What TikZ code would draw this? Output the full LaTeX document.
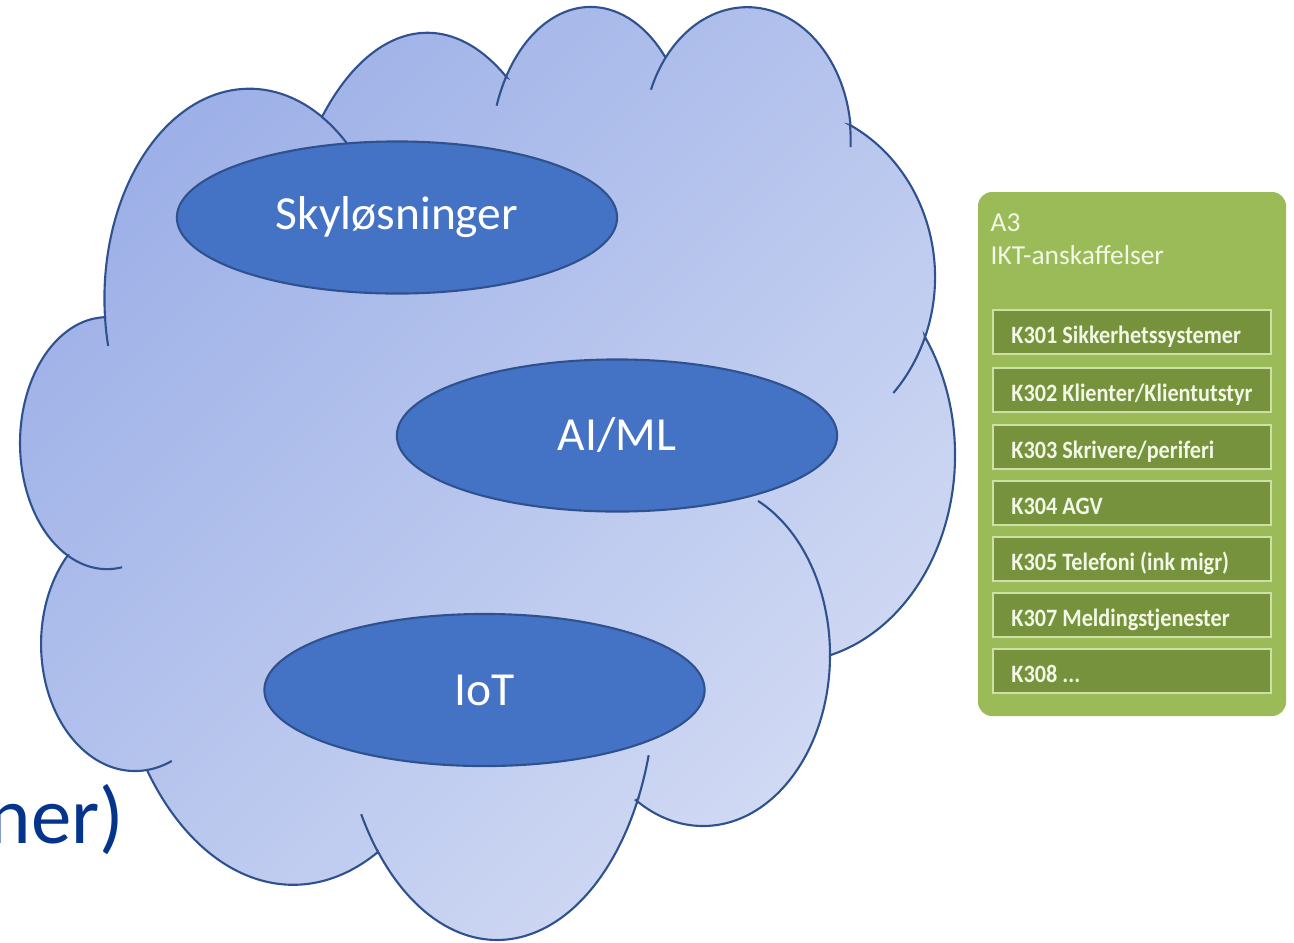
\documentclass[tikz,border=0pt]{standalone}
\usepackage{fontspec}
\usepackage{graphicx}
\setmainfont{Carlito}
\usetikzlibrary{shapes.geometric}
\definecolor{cloudline}{HTML}{2F528F}
\definecolor{cloudA}{RGB}{156,175,231}
\definecolor{cloudB}{RGB}{210,219,244}
\definecolor{ellfill}{HTML}{4472C4}
\definecolor{greenbg}{HTML}{9BBB59}
\definecolor{greenbox}{RGB}{118,146,60}
\definecolor{greenline}{RGB}{205,225,165}
\definecolor{greentext}{RGB}{242,247,230}
\definecolor{navytext}{RGB}{5,52,140}
\begin{document}
\begin{tikzpicture}[x=0.01cm,y=0.01cm,
  cloudstroke/.style={draw=cloudline, line width=0.6pt},
  ell/.style={ellipse, draw=cloudline, line width=0.6pt, fill=ellfill, minimum width=4.4cm, minimum height=1.52cm, inner sep=0pt, text=white, font=\fontsize{13.5}{16}\selectfont},
  kbox/.style={rectangle, draw=greenline, line width=0.7pt, fill=greenbox, minimum width=2.78cm, minimum height=0.44cm, inner sep=0pt},
  ktext/.style={anchor=base west, inner sep=0pt, text=greentext, font=\fontsize{7.1}{8}\selectfont\bfseries},
  ttext/.style={anchor=base west, inner sep=0pt, text=greentext, font=\fontsize{7.8}{9}\selectfont}
]
\useasboundingbox (0,0) rectangle (1294,-942);

% cloud body
\shadedraw[top color=cloudA, bottom color=cloudB, shading angle=45, cloudstroke]
 (105,-317)
 arc[start angle=185, end angle=60, x radius=145, y radius=210] -- (323,-115)
 arc[start angle=134, end angle=58, x radius=150, y radius=293] -- (506,-77)
 arc[start angle=147.8, end angle=41.6, x radius=100, y radius=150] -- (666,-57)
 arc[start angle=141.3, end angle=6.5, x radius=104, y radius=133] -- (850,-125)
 arc[start angle=62.5, end angle=-20.5, x radius=158, y radius=171.5] -- (925,-337)
 arc[start angle=34.8, end angle=-75.2, x radius=168, y radius=207] -- (830,-655)
 arc[start angle=0, end angle=-121.9, x radius=127, y radius=171] -- (638,-799)
 arc[start angle=-26.9, end angle=-138.9, x radius=158, y radius=257.5] -- (378,-852)
 arc[start angle=-62.2, end angle=-143.4, x radius=182, y radius=284] -- (147,-770)
 arc[start angle=-82.7, end angle=-224.4, x radius=94, y radius=127] -- (67,-555)
 arc[start angle=242.6, end angle=91.3, x radius=87, y radius=126] -- cycle;

% inner lobe stubs
\draw[cloudstroke] (105,-317) arc[start angle=185, end angle=193, x radius=145, y radius=210];
\draw[cloudstroke] (322,-117) arc[start angle=60, end angle=47, x radius=145, y radius=210];
\draw[cloudstroke] (506,-77) arc[start angle=147.8, end angle=160, x radius=100, y radius=150];
\draw[cloudstroke] (666,-57) arc[start angle=141.3, end angle=157.7, x radius=104, y radius=133];
\draw[cloudstroke] (850,-125) arc[start angle=6.5, end angle=-3, x radius=104, y radius=133];
\draw[cloudstroke] (925,-337) arc[start angle=-20.5, end angle=-42.6, x radius=158, y radius=171.5];
\draw[cloudstroke] (830,-655) arc[start angle=0, end angle=64.3, x radius=127, y radius=171];
\draw[cloudstroke] (638,-799) arc[start angle=-26.9, end angle=-16.4, x radius=158, y radius=257.5];
\draw[cloudstroke] (378,-852) arc[start angle=-138.9, end angle=-149.3, x radius=158, y radius=257.5];
\draw[cloudstroke] (147,-770) arc[start angle=-82.7, end angle=-67, x radius=94, y radius=127];
\draw[cloudstroke] (67,-555) arc[start angle=242.6, end angle=280, x radius=87, y radius=126];

% ellipses
\node[ell] (sky) at (397,-217.5) {Skyløsninger};
\node[ell] (aiml) at (617,-435.5) {AI/ML};
\node[ell] (iot) at (484.5,-690) {IoT};

% cut-off text
\node[anchor=base west, inner sep=0pt, text=navytext, font=\fontsize{23}{27}\selectfont] (ner) at (-12,-843) {ner)};

% green panel
\fill[greenbg, rounded corners=1.4mm] (978,-192) rectangle (1286,-716);
\node[ttext] (a3) at (990,-231) {A3};
\node[ttext] (ikt) at (990,-264) {IKT-anskaffelser};

\node[kbox] (k1) at (1132,-332) {};
\node[kbox] (k2) at (1132,-390) {};
\node[kbox] (k3) at (1132,-447) {};
\node[kbox] (k4) at (1132,-503) {};
\node[kbox] (k5) at (1132,-559) {};
\node[kbox] (k6) at (1132,-615) {};
\node[kbox] (k7) at (1132,-671) {};

\node[ktext] (t1) at ([xshift=0.19cm,yshift=-0.11cm]k1.west) {\scalebox{0.89}[1]{K301 Sikkerhetssystemer}};
\node[ktext] (t2) at ([xshift=0.19cm,yshift=-0.11cm]k2.west) {\scalebox{0.89}[1]{K302 Klienter/Klientutstyr}};
\node[ktext] (t3) at ([xshift=0.19cm,yshift=-0.11cm]k3.west) {\scalebox{0.89}[1]{K303 Skrivere/periferi}};
\node[ktext] (t4) at ([xshift=0.19cm,yshift=-0.11cm]k4.west) {\scalebox{0.89}[1]{K304 AGV}};
\node[ktext] (t5) at ([xshift=0.19cm,yshift=-0.11cm]k5.west) {\scalebox{0.89}[1]{K305 Telefoni (ink migr)}};
\node[ktext] (t6) at ([xshift=0.19cm,yshift=-0.11cm]k6.west) {\scalebox{0.89}[1]{K307 Meldingstjenester}};
\node[ktext] (t7) at ([xshift=0.19cm,yshift=-0.11cm]k7.west) {\scalebox{0.89}[1]{K308 ...}};
\end{tikzpicture}
\end{document}
